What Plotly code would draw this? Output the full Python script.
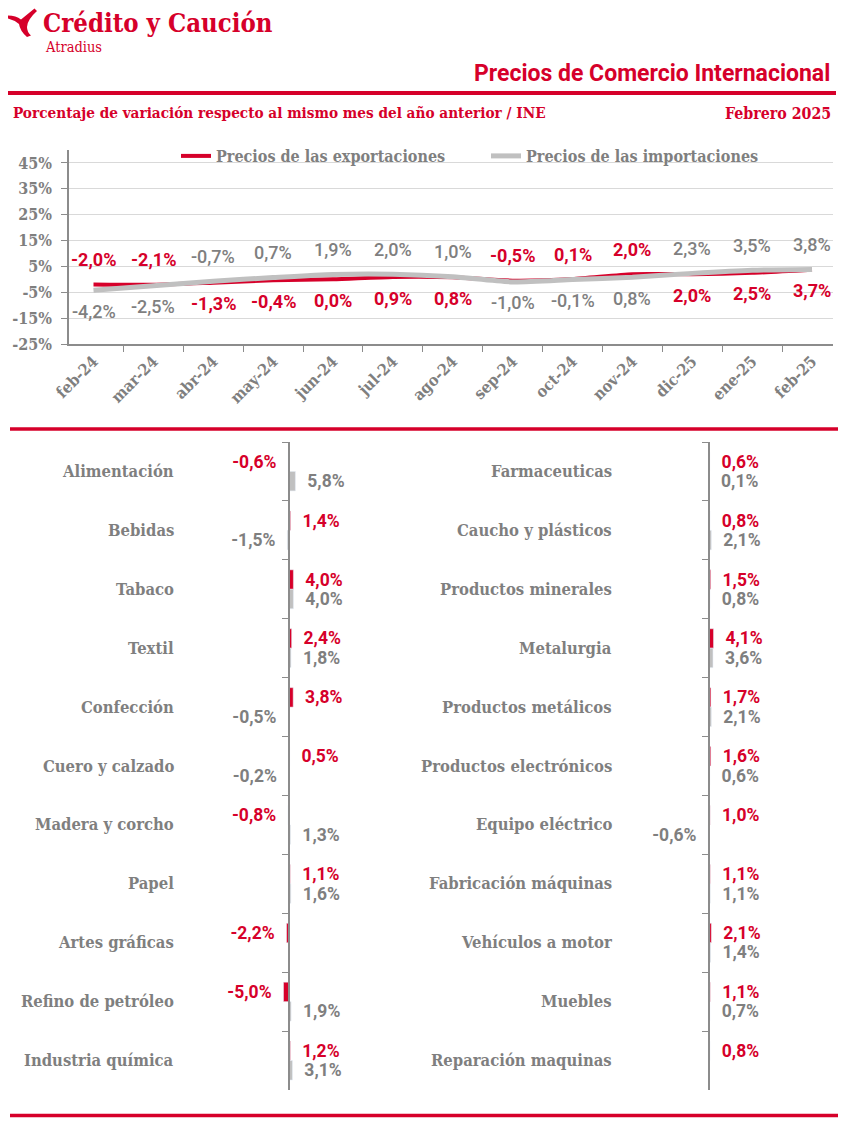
import plotly.graph_objects as go

# ---------------- DATA ----------------
months = ["feb-24", "mar-24", "abr-24", "may-24", "jun-24", "jul-24", "ago-24",
          "sep-24", "oct-24", "nov-24", "dic-25", "ene-25", "feb-25"]
exports = [-2.0, -2.1, -1.3, -0.4, 0.0, 0.9, 0.8, -0.5, 0.1, 2.0, 2.0, 2.5, 3.7]
imports = [-4.2, -2.5, -0.7, 0.7, 1.9, 2.0, 1.0, -1.0, -0.1, 0.8, 2.3, 3.5, 3.8]
y_ticks = [-25, -15, -5, 5, 15, 25, 35, 45]

sectors_left = ["Alimentación", "Bebidas", "Tabaco", "Textil", "Confección",
                "Cuero y calzado", "Madera y corcho", "Papel", "Artes gráficas",
                "Refino de petróleo", "Industria química"]
exp_left = [-0.6, 1.4, 4.0, 2.4, 3.8, 0.5, -0.8, 1.1, -2.2, -5.0, 1.2]
imp_left = [5.8, -1.5, 4.0, 1.8, -0.5, -0.2, 1.3, 1.6, None, 1.9, 3.1]

sectors_right = ["Farmaceuticas", "Caucho y plásticos", "Productos minerales",
                 "Metalurgia", "Productos metálicos", "Productos electrónicos",
                 "Equipo eléctrico", "Fabricación máquinas", "Vehículos a motor",
                 "Muebles", "Reparación maquinas"]
exp_right = [0.6, 0.8, 1.5, 4.1, 1.7, 1.6, 1.0, 1.1, 2.1, 1.1, 0.8]
imp_right = [0.1, 2.1, 0.8, 3.6, 2.1, 0.6, -0.6, 1.1, 1.4, 0.7, None]

# ---------------- STYLE ----------------
W, H = 852, 1133
RED = "#d6002a"
GREY_TXT = "#7f7f7f"
GREY_LINE = "#c0c0c0"
AXIS = "#8c8c8c"
SERIF = "DejaVu Serif Condensed, DejaVu Serif, serif"
SANS = "Roboto, Liberation Sans, sans-serif"
NARROW = "Liberation Sans Narrow, Roboto, sans-serif"


def px(x):
    return x / W


def py(y):
    return 1 - y / H


def fmt(v):
    return f"{v:.1f}".replace(".", ",") + "%"


fig = go.Figure()

# ---------------- LINE CHART ----------------
fig.add_trace(go.Scatter(x=months, y=exports, mode="lines", name="Precios de las exportaciones",
                         line=dict(color=RED, width=4, shape="spline", smoothing=0.6),
                         xaxis="x", yaxis="y", hoverinfo="skip"))
fig.add_trace(go.Scatter(x=months, y=imports, mode="lines", name="Precios de las importaciones",
                         line=dict(color=GREY_LINE, width=5, shape="spline", smoothing=0.6),
                         xaxis="x", yaxis="y", hoverinfo="skip"))

annotations = []
for m, e, i in zip(months, exports, imports):
    e_up = e > i
    for v, col, up, w in ((e, RED, e_up, "bold"), (i, GREY_TXT, not e_up, 500)):
        annotations.append(dict(x=m, y=v, xref="x", yref="y", text=fmt(v), showarrow=False,
                                yshift=25 if up else -21, xanchor="center", yanchor="middle",
                                font=dict(family=SANS, size=18, color=col, weight=w)))

# ---------------- BAR CHARTS ----------------
bar_common = dict(orientation="h", textposition="outside", cliponaxis=False,
                  constraintext="none", texttemplate="\u2002%{x:.1f}%\u2002",
                  hoverinfo="skip", showlegend=False)
fig.add_trace(go.Bar(y=sectors_left, x=exp_left, marker_color=RED,
                     textfont=dict(family=SANS, size=17.5, color=RED, weight="bold"),
                     xaxis="x2", yaxis="y2", **bar_common))
fig.add_trace(go.Bar(y=sectors_left, x=imp_left, marker_color=GREY_LINE,
                     textfont=dict(family=SANS, size=17.5, color=GREY_TXT, weight="bold"),
                     xaxis="x2", yaxis="y2", **bar_common))
fig.add_trace(go.Bar(y=sectors_right, x=exp_right, marker_color=RED,
                     textfont=dict(family=SANS, size=17.5, color=RED, weight="bold"),
                     xaxis="x3", yaxis="y3", **bar_common))
fig.add_trace(go.Bar(y=sectors_right, x=imp_right, marker_color=GREY_LINE,
                     textfont=dict(family=SANS, size=17.5, color=GREY_TXT, weight="bold"),
                     xaxis="x3", yaxis="y3", **bar_common))

lab_font = dict(family=SERIF, size=16.5, color=GREY_TXT, weight="bold")
for s in sectors_left:
    annotations.append(dict(x=px(176), y=s, xref="paper", yref="y2", text=s, showarrow=False,
                            xanchor="right", yanchor="middle", font=lab_font))
for s in sectors_right:
    annotations.append(dict(x=px(614), y=s, xref="paper", yref="y3", text=s, showarrow=False,
                            xanchor="right", yanchor="middle", font=lab_font))

# ---------------- HEADER TEXT ----------------
annotations += [
    dict(x=px(41), y=py(23), xref="paper", yref="paper", text="Crédito y Caución",
         showarrow=False, xanchor="left", yanchor="middle",
         font=dict(family=SERIF, size=25.5, color=RED, weight="bold")),
    dict(x=px(43), y=py(47), xref="paper", yref="paper", text="Atradius",
         showarrow=False, xanchor="left", yanchor="middle",
         font=dict(family=SERIF, size=14.5, color=RED)),
    dict(x=px(832), y=py(73), xref="paper", yref="paper", text="Precios de Comercio Internacional",
         showarrow=False, xanchor="right", yanchor="middle",
         font=dict(family=NARROW, size=23, color=RED, weight="bold")),
    dict(x=px(11), y=py(113), xref="paper", yref="paper",
         text="Porcentaje de variación respecto al mismo mes del año anterior / INE",
         showarrow=False, xanchor="left", yanchor="middle",
         font=dict(family=SERIF, size=15.2, color=RED, weight="bold")),
    dict(x=px(833), y=py(113), xref="paper", yref="paper", text="Febrero 2025",
         showarrow=False, xanchor="right", yanchor="middle",
         font=dict(family=SERIF, size=15.8, color=RED, weight="bold")),
]


def P(x, y):
    return f"{px(x):.5f},{py(y):.5f}"


logo = ("M " + P(8, 15.5) + " Q " + P(16, 15.5) + " " + P(21, 19.5) +
        " L " + P(34.5, 8.5) + " L " + P(37, 11) +
        " Q " + P(27, 20) + " " + P(27, 27) +
        " Q " + P(27, 32) + " " + P(31, 35.5) +
        " L " + P(27, 37) + " Q " + P(20, 31) + " " + P(19, 24) +
        " Q " + P(14, 20) + " " + P(8, 18.5) + " Z")

shapes = [
    dict(type="path", path=logo, xref="paper", yref="paper", fillcolor=RED, line=dict(width=0)),
    dict(type="line", xref="paper", yref="paper", x0=px(8), x1=px(836), y0=py(93), y1=py(93),
         line=dict(color=RED, width=4)),
    dict(type="line", xref="paper", yref="paper", x0=px(10), x1=px(838), y0=py(429), y1=py(429),
         line=dict(color=RED, width=3.5)),
    dict(type="line", xref="paper", yref="paper", x0=px(10), x1=px(838), y0=py(1115.5), y1=py(1115.5),
         line=dict(color=RED, width=3.5)),
]

tick_serif = dict(family=SERIF, size=16, color=GREY_TXT, weight="bold")

fig.update_layout(
    width=W, height=H, margin=dict(l=0, r=0, t=0, b=0, pad=0, autoexpand=False),
    paper_bgcolor="white", plot_bgcolor="white",
    separators=",.",
    barmode="group", bargap=0.34, bargroupgap=0,
    showlegend=True,
    legend=dict(orientation="h", x=px(176), xanchor="left", y=py(156), yanchor="middle",
                font=dict(family=SERIF, size=16, color=GREY_TXT, weight="bold"),
                bgcolor="rgba(0,0,0,0)", itemwidth=30, tracegroupgap=0,
                entrywidth=265, entrywidthmode="pixels"),
    xaxis=dict(domain=[px(69), px(833)], anchor="y", type="category", tickson="boundaries",
               ticks="outside", ticklen=6, tickcolor=AXIS, showline=True, linecolor=AXIS,
               linewidth=1.5, tickangle=-45, tickfont=tick_serif, showgrid=False,
               automargin=False),
    yaxis=dict(domain=[py(344), py(150)], anchor="x", range=[-25, 50], tickvals=y_ticks,
               ticktext=[f"{v}%" for v in y_ticks], showgrid=True, gridcolor="#d9d9d9",
               gridwidth=1, showline=True, linecolor=AXIS, linewidth=1.5, ticks="outside",
               ticklen=6, tickcolor=AXIS, tickfont=tick_serif, zeroline=False,
               ticklabelstandoff=6, automargin=False),
    xaxis2=dict(domain=[px(179), px(399)], anchor="y2", range=[-100, 100], visible=False,
                automargin=False),
    yaxis2=dict(domain=[py(1090), py(442)], anchor="free", position=px(289), type="category",
                autorange="reversed", showline=True, linecolor=AXIS, linewidth=1.5,
                ticks="outside", ticklen=6, tickcolor=AXIS, tickson="boundaries",
                showticklabels=False, showgrid=False, zeroline=False, automargin=False),
    xaxis3=dict(domain=[px(599), px(819)], anchor="y3", range=[-100, 100], visible=False,
                automargin=False),
    yaxis3=dict(domain=[py(1090), py(442)], anchor="free", position=px(709), type="category",
                autorange="reversed", showline=True, linecolor=AXIS, linewidth=1.5,
                ticks="outside", ticklen=6, tickcolor=AXIS, tickson="boundaries",
                showticklabels=False, showgrid=False, zeroline=False, automargin=False),
    annotations=annotations,
    shapes=shapes,
)

fig.write_html("out.html", config={"displayModeBar": False},
               post_script="document.body.style.margin='0';document.body.style.padding='0';")
